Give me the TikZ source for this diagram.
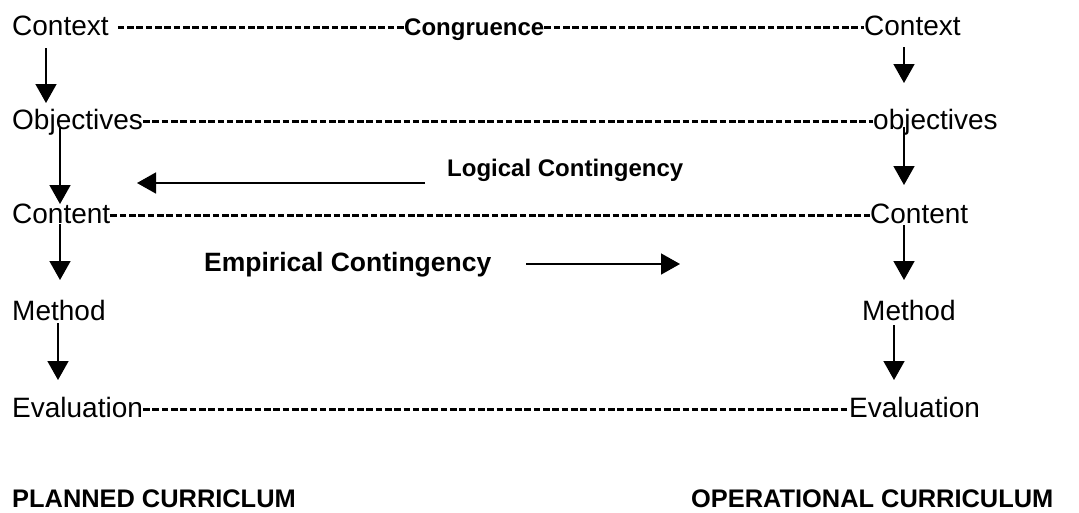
\documentclass[tikz,border=0pt]{standalone}
\usepackage{fontspec}
\setmainfont{Liberation Sans}
\usetikzlibrary{arrows.meta}
\begin{document}
\begin{tikzpicture}[x=1pt,y=-1pt,
  lbl/.style={anchor=base west,inner sep=0pt,font=\fontsize{28}{30}\selectfont,text height=21pt,text depth=6pt},
  blbl/.style={anchor=base west,inner sep=0pt,font=\fontsize{#1}{#1}\selectfont\bfseries,text height=21pt,text depth=6pt},
  arr/.style={line width=1.6pt,-{Triangle[width=21pt,length=19pt]}},
  hy/.style={line width=2.3pt,dash pattern=on 6.6pt off 2.7pt}]
\useasboundingbox (0,0) rectangle (1079,512);
% left column
\node[lbl] (ctxL)  at (12,35)  {Context};
\node[lbl] (objL)  at (12,129) {Objectives};
\node[lbl] (contL) at (12,223) {Content};
\node[lbl] (methL) at (12,320) {Method};
\node[lbl] (evalL) at (12,417) {Evaluation};
% right column
\node[lbl] (ctxR)  at (864,35)  {Context};
\node[lbl] (objR)  at (873,129) {objectives};
\node[lbl] (contR) at (870,223) {Content};
\node[lbl] (methR) at (862,320) {Method};
\node[lbl] (evalR) at (849,417) {Evaluation};
% labels
\node[blbl=24] (cong) at (404,35) {Congruence};
\node[blbl=24] (logic) at (447,176) {Logical Contingency};
\node[blbl=26.5] (emp) at (204,271) {Empirical Contingency};
\node[anchor=base west,inner sep=0pt,font=\fontsize{25.4}{26}\selectfont\bfseries] (plan) at (12,507) {PLANNED CURRICLUM};
\node[anchor=base west,inner sep=0pt,font=\fontsize{25.4}{26}\selectfont\bfseries] (oper) at (691,507) {OPERATIONAL CURRICULUM};
\coordinate (logtip) at (137,183);
\coordinate (emptip) at (680,264);
% dashed congruence rows
\draw[hy] ([xshift=9pt]ctxL.east) -- (cong.west);
\draw[hy] (cong.east) -- (ctxR.west);
\draw[hy] (objL.east) -- (objR.west);
\draw[hy] (contL.east) -- (contR.west);
\draw[hy] (evalL.east) -- (evalR.west);
% left arrows
\draw[arr] ([shift={(34,13)}]ctxL.base west) -- ([shift={(34,-26)}]objL.base west);
\draw[arr] ([shift={(48,-1)}]objL.base west) -- ([shift={(48,-19)}]contL.base west);
\draw[arr] ([shift={(48,1)}]contL.base west) -- ([shift={(48,-40)}]methL.base west);
\draw[arr] ([shift={(46,3)}]methL.base west) -- ([shift={(46,-37)}]evalL.base west);
% right arrows
\draw[arr] ([shift={(40,12)}]ctxR.base west) -- ([shift={(31,-46)}]objR.base west);
\draw[arr] ([shift={(31,-2)}]objR.base west) -- ([shift={(34,-38)}]contR.base west);
\draw[arr] ([shift={(34,2)}]contR.base west) -- ([shift={(42,-40)}]methR.base west);
\draw[arr] ([shift={(32,5)}]methR.base west) -- ([shift={(45,-37)}]evalR.base west);
% contingency arrows
\draw[arr] ([shift={(-22,7)}]logic.base west) -- (logtip);
\draw[arr] ([shift={(322,-7)}]emp.base west) -- (emptip);
\end{tikzpicture}
\end{document}
